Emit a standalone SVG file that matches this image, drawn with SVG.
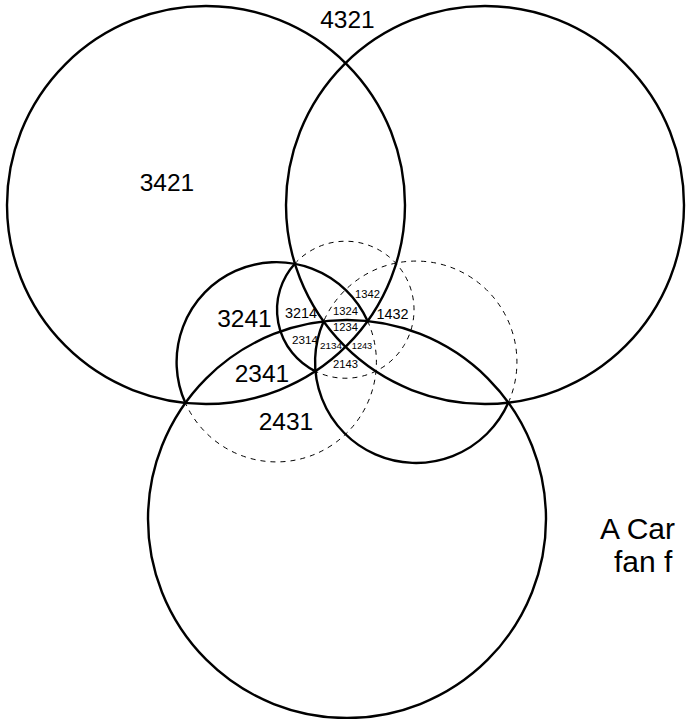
<svg xmlns="http://www.w3.org/2000/svg" width="686" height="719" viewBox="0 0 686 719">
<style>
.s{fill:none;stroke:#000;stroke-width:2.4}
.d{fill:none;stroke:#000;stroke-width:1;stroke-dasharray:5,5}
text{font-family:"Liberation Sans",Arial,sans-serif;fill:#000}
.b{font-size:24.5px;text-anchor:middle}
.m{font-size:14.4px;text-anchor:middle}
.n{font-size:11.2px;text-anchor:middle}
.c{font-size:30px}
</style>
<rect width="686" height="719" fill="#fff"/>
<g id="connectors">
<path class="d" d="M367.6,321 A99.9,99.9 0 0 1 317.5,453.1 A99.9,99.9 0 0 1 185.4,403"/>
<path class="d" d="M508.4,402.6 A100.9,100.9 0 0 0 456.6,269.6 A100.9,100.9 0 0 0 323.6,321.4"/>
<path class="d" d="M294.8,263.7 A68.5,68.5 0 1 1 315.5,371.3"/>
</g>
<g id="c1"><circle class="s" cx="206" cy="205" r="199"/></g>
<g id="c2"><circle class="s" cx="485" cy="205" r="199"/></g>
<g id="c3"><circle class="s" cx="347" cy="519" r="199"/></g>
<g id="c4"><path class="s" d="M185.4,403 A99.9,99.9 0 0 1 235.5,270.9 A99.9,99.9 0 0 1 367.6,321"/></g>
<g id="c5"><path class="s" d="M323.6,321.4 A100.9,100.9 0 0 0 375.4,454.4 A100.9,100.9 0 0 0 508.4,402.6"/></g>
<g id="c7"><path class="s" d="M315.5,371.3 A68.5,68.5 0 0 1 294.8,263.7"/></g>
<g id="labels">
<text class="b" x="347.5" y="28">4321</text>
<text class="b" x="167" y="191">3421</text>
<text class="b" x="244.5" y="327">3241</text>
<text class="b" x="262" y="382">2341</text>
<text class="b" x="286" y="430">2431</text>
<text class="m" x="301" y="318">3214</text>
<text class="m" x="392.5" y="319">1432</text>
<text class="n" x="367.5" y="298">1342</text>
<text class="n" x="345.5" y="315">1324</text>
<text class="n" x="345.5" y="331">1234</text>
<text class="n" x="305" y="344" style="font-size:11.7px">2314</text>
<text class="n" x="331" y="349" style="font-size:9.9px">2134</text>
<text class="n" x="362" y="349" style="font-size:9.2px">1243</text>
<text class="n" x="345.5" y="368">2143</text>
</g>
<g id="caption">
<text class="c" x="600" y="539">A Car</text>
<text class="c" x="614" y="572">fan f</text>
</g>
</svg>
